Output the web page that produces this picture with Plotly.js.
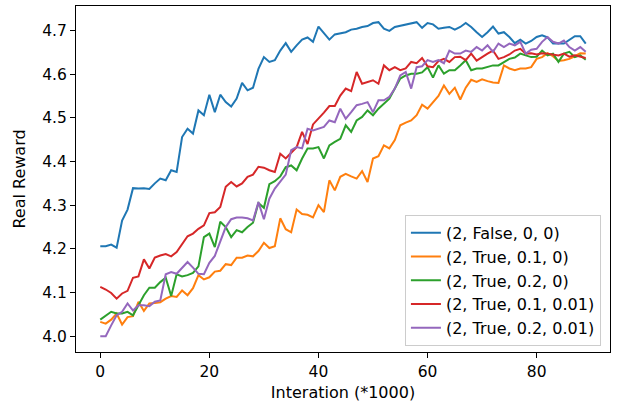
<!DOCTYPE html>
<html>
<head>
<meta charset="utf-8">
<script src="https://cdn.plot.ly/plotly-3.0.1.min.js"></script>
<style>
  html, body { margin: 0; padding: 0; background: #ffffff; }
  #chart { width: 618px; height: 402px; }
</style>
</head>
<body>
<div id="chart"></div>
<script>
const seriesNames = ["(2, False, 0, 0)", "(2, True, 0.1, 0)", "(2, True, 0.2, 0)", "(2, True, 0.1, 0.01)", "(2, True, 0.2, 0.01)"];

const blueValues = [4.206,4.206,4.21,4.203,4.265,4.29,4.339,4.338,4.339,4.337,
  4.35,4.361,4.357,4.38,4.376,4.456,4.475,4.464,4.517,4.506,
  4.553,4.513,4.553,4.536,4.526,4.544,4.58,4.563,4.569,4.612,
  4.639,4.628,4.632,4.654,4.671,4.651,4.666,4.679,4.684,4.674,
  4.709,4.693,4.679,4.691,4.693,4.696,4.702,4.704,4.708,4.71,
  4.717,4.719,4.704,4.699,4.708,4.711,4.713,4.717,4.719,4.706,
  4.717,4.714,4.704,4.706,4.708,4.702,4.708,4.717,4.708,4.696,
  4.685,4.696,4.709,4.693,4.696,4.685,4.671,4.679,4.67,4.676,
  4.685,4.689,4.684,4.67,4.671,4.67,4.679,4.687,4.687,4.67];

const orangeValues = [4.033,4.029,4.038,4.052,4.027,4.044,4.046,4.079,4.058,4.075,
  4.076,4.078,4.086,4.092,4.09,4.105,4.094,4.11,4.14,4.13,
  4.135,4.148,4.15,4.165,4.163,4.18,4.18,4.185,4.183,4.195,
  4.214,4.202,4.206,4.27,4.245,4.238,4.29,4.28,4.278,4.272,
  4.3,4.284,4.357,4.334,4.365,4.372,4.366,4.361,4.378,4.353,
  4.407,4.412,4.437,4.43,4.449,4.483,4.489,4.494,4.506,4.53,
  4.521,4.536,4.55,4.574,4.555,4.569,4.542,4.569,4.587,4.582,
  4.588,4.584,4.581,4.58,4.62,4.613,4.609,4.613,4.613,4.616,
  4.635,4.639,4.648,4.641,4.63,4.632,4.635,4.641,4.648,4.647];

const greenValues = [4.038,4.048,4.056,4.052,4.052,4.056,4.048,4.071,4.094,4.111,
  4.111,4.124,4.134,4.092,4.142,4.137,4.14,4.145,4.16,4.227,
  4.235,4.204,4.262,4.25,4.227,4.243,4.238,4.25,4.26,4.305,
  4.294,4.348,4.355,4.366,4.387,4.391,4.38,4.407,4.43,4.43,
  4.433,4.407,4.437,4.445,4.452,4.483,4.468,4.494,4.502,4.517,
  4.506,4.521,4.532,4.544,4.567,4.59,4.597,4.601,4.601,4.604,
  4.616,4.592,4.62,4.601,4.609,4.609,4.62,4.632,4.609,4.613,
  4.613,4.616,4.62,4.62,4.628,4.635,4.638,4.647,4.643,4.639,
  4.64,4.654,4.643,4.647,4.628,4.647,4.651,4.639,4.643,4.633];

const redValues = [4.113,4.107,4.099,4.086,4.098,4.104,4.134,4.137,4.176,4.155,
  4.18,4.185,4.188,4.183,4.193,4.21,4.229,4.235,4.246,4.254,
  4.282,4.284,4.296,4.342,4.353,4.343,4.35,4.365,4.37,4.388,
  4.386,4.38,4.376,4.418,4.407,4.42,4.433,4.468,4.44,4.485,
  4.498,4.512,4.527,4.527,4.551,4.567,4.561,4.605,4.578,4.582,
  4.586,4.578,4.62,4.609,4.616,4.609,4.613,4.628,4.625,4.637,
  4.618,4.616,4.63,4.635,4.628,4.639,4.64,4.632,4.647,4.631,
  4.64,4.647,4.654,4.635,4.639,4.645,4.654,4.658,4.647,4.648,
  4.645,4.648,4.647,4.645,4.643,4.647,4.64,4.643,4.64,4.637];

const purpleValues = [4.0,4.0,4.025,4.048,4.056,4.075,4.059,4.071,4.071,4.069,
  4.079,4.082,4.142,4.147,4.143,4.157,4.17,4.157,4.143,4.142,
  4.168,4.184,4.216,4.25,4.268,4.272,4.272,4.27,4.265,4.307,
  4.268,4.315,4.338,4.353,4.37,4.426,4.433,4.43,4.475,4.471,
  4.475,4.479,4.494,4.49,4.521,4.498,4.513,4.529,4.532,4.536,
  4.513,4.54,4.54,4.548,4.567,4.597,4.605,4.567,4.616,4.618,
  4.632,4.628,4.632,4.625,4.654,4.647,4.647,4.654,4.651,4.662,
  4.654,4.666,4.651,4.67,4.662,4.67,4.666,4.674,4.647,4.656,
  4.658,4.674,4.685,4.674,4.67,4.677,4.662,4.654,4.662,4.651];

const seriesValues = [blueValues, orangeValues, greenValues, redValues, purpleValues];
const seriesColors = ["#1f77b4", "#ff7f0e", "#2ca02c", "#d62728", "#9467bd"];

const xTickValues = [0, 20, 40, 60, 80];
const yTickValues = [4.0, 4.1, 4.2, 4.3, 4.4, 4.5, 4.6, 4.7];
const yTickLabels = ["4.0", "4.1", "4.2", "4.3", "4.4", "4.5", "4.6", "4.7"];

const FONT = "DejaVu Sans, Liberation Sans, sans-serif";
const FS = 16;

const traces = seriesValues.map((vals, k) => ({
  type: "scatter",
  mode: "lines",
  name: seriesNames[k],
  x: vals.map((_, i) => i),
  y: vals,
  line: { color: seriesColors[k], width: 2 },
  hoverinfo: "skip"
}));

const axisCommon = {
  showline: true, mirror: true, linecolor: "#000000", linewidth: 1,
  ticks: "outside", ticklen: 5, tickwidth: 1, tickcolor: "#000000",
  showgrid: false, zeroline: false,
  tickfont: { family: FONT, size: 15.5, color: "#000000" },
  automargin: false
};

const layout = {
  width: 618, height: 402,
  margin: { l: 76, r: 8, t: 6, b: 50 },
  paper_bgcolor: "#ffffff", plot_bgcolor: "#ffffff",
  font: { family: FONT, size: FS, color: "#000000" },
  showlegend: true,
  legend: {
    x: 0.983, xanchor: "right", y: 0.018, yanchor: "bottom",
    bgcolor: "rgba(255,255,255,0.8)", bordercolor: "#cccccc", borderwidth: 1,
    font: { family: FONT, size: FS, color: "#000000" },
    itemwidth: 30
  },
  xaxis: Object.assign({}, axisCommon, {
    range: [-4.45, 93.45],
    tickmode: "array", tickvals: xTickValues, ticktext: xTickValues.map(String),
    title: { text: "Interation (*1000)", font: { family: FONT, size: FS, color: "#000000" }, standoff: 7 }
  }),
  yaxis: Object.assign({}, axisCommon, {
    range: [3.964, 4.756],
    tickmode: "array", tickvals: yTickValues, ticktext: yTickLabels,
    title: { text: "Real Reward", font: { family: FONT, size: FS, color: "#000000" }, standoff: 12 }
  })
};

Plotly.newPlot("chart", traces, layout, { displayModeBar: false, staticPlot: true });
</script>
</body>
</html>
